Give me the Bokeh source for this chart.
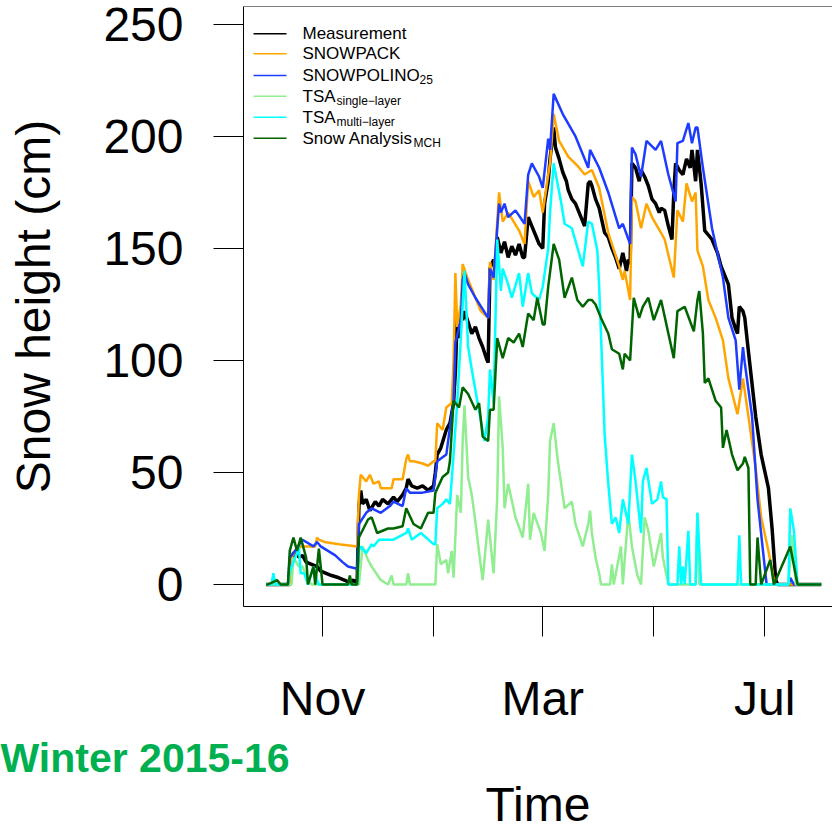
from bokeh.plotting import figure
from bokeh.models import Range1d, FixedTicker, Label, Span, Title, LinearAxis
from bokeh.embed import file_html
from bokeh.resources import INLINE

# Days counted from the start of the season (1 Oct 2015 = day 0)
season_start = "2015-10-01"

tick_days = [31, 92, 152, 213, 274]          # 1 Nov, 1 Jan, 1 Mar, 1 May, 1 Jul
tick_labels = ["Nov", "", "Mar", "", "Jul"]
y_ticks = [0, 50, 100, 150, 200, 250]

meas_day = [0,13,14,15,17,18,20,22,25,28,30,33,36,40,43,46,48,50,51,52,53,55,57,60,62,64,67,70,72,75,
            77,78,80,83,86,89,92,93,94,96,99,101,103,104,105,106,107,108,109,111,113,115,117,119,121,122,123,125,126,127,
            129,131,133,135,137,139,141,142,144,146,148,150,152,153,155,156,158,159,161,163,165,166,168,170,172,174,175,177,178,179,
            181,183,186,188,190,192,194,196,198,199,200,201,203,205,206,208,210,212,214,216,217,219,221,223,224,225,227,229,231,233,
            234,236,237,239,241,243,245,248,250,252,254,256,258,259,260,262,263,265,269,272,276,278,280,281,305]
meas_cm = [0,0,10,14,15,12,13,10,9,8,6,5,4,3,2,1,2,0,35,42,36,38,33,37,35,38,36,39,37,40,
           43,47,44,43,44,42,44,50,58,61,69,72,81,95,119,110,122,118,122,117,112,115,110,106,101,99,141,145,141,155,
           148,153,146,151,147,152,146,146,164,160,156,152,150,170,180,190,204,195,190,184,180,176,172,170,166,162,160,179,180,178,
           172,168,157,155,150,146,141,148,140,145,143,188,186,180,185,182,178,172,170,166,168,167,160,154,175,188,185,183,190,186,
           194,180,194,179,158,156,154,148,142,138,134,119,114,112,124,122,119,104,75,58,43,25,2,0,0]

pack_day = [0,13,14,16,19,22,27,28,29,32,40,50,51,52,55,57,59,62,63,69,70,75,77,78,79,81,86,89,92,93,
            94,97,99,102,103,104,105,107,108,111,115,118,122,123,125,128,130,133,139,142,144,147,150,152,155,156,158,161,166,171,
            175,179,183,188,194,196,197,200,201,203,206,209,212,217,219,224,226,229,231,234,236,237,240,243,247,251,254,259,262,265,
            269,272,276,279,280,305]
pack_cm = [0,0,12,15,17,17,17,21,20,19,18,17,40,49,46,49,45,46,43,43,47,47,56,58,55,55,54,53,55,55,
           72,69,79,81,100,139,115,125,143,136,128,122,119,144,136,175,162,166,158,152,180,173,176,166,183,188,210,198,191,187,
           183,185,177,157,142,136,140,127,173,171,159,170,164,157,154,137,167,162,179,171,175,149,142,127,119,109,92,76,92,75,
           52,30,15,2,0,0]

polino_day = [0,12,13,15,20,26,28,30,38,42,45,50,51,55,58,63,68,70,75,77,79,86,92,94,99,101,103,104,107,108,
              109,111,115,122,123,125,128,129,131,133,137,142,144,146,150,152,155,156,158,163,170,177,178,183,188,194,196,200,201,203,
              206,209,214,217,221,225,226,229,232,234,236,237,240,245,251,254,258,260,262,263,267,270,273,275,287,288,290,305]
polino_cm = [0,0,12,14,20,17,19,17,13,10,8,7,27,32,34,32,35,37,35,43,41,41,42,55,58,70,82,108,118,136,
             139,134,128,119,141,137,170,166,170,164,167,161,183,188,182,177,199,194,219,210,200,186,194,186,175,159,161,152,195,192,
             182,198,194,198,183,171,197,198,206,197,204,204,186,159,137,119,109,87,106,99,75,38,15,0,0,3,0,0]

tsa1_day = [0,14,15,18,20,23,25,51,53,56,58,63,67,69,70,77,78,79,93,94,96,99,100,102,103,105,107,108,109,111,
            113,115,118,119,122,125,127,128,130,131,133,137,141,144,145,147,151,153,155,156,158,160,164,168,170,174,177,178,179,181,
            183,184,189,190,191,195,196,199,201,204,206,208,210,213,217,218,221,236,237,238,287,289,291,305]
tsa1_cm = [0,0,12,8,8,2,0,0,17,11,8,2,0,4,0,0,5,0,0,18,9,11,5,15,3,40,32,64,80,48,
           40,28,8,2,29,5,39,84,61,34,45,30,21,45,20,32,23,15,40,64,72,57,34,37,27,17,27,33,23,12,
           5,0,0,9,0,17,0,32,17,4,0,30,24,8,23,12,0,0,32,0,0,22,0,0]

tsa2_day = [0,3,4,5,12,13,15,17,18,19,21,23,26,28,29,50,51,52,55,58,59,62,70,77,78,80,85,92,93,94,
            97,99,101,103,105,108,109,111,113,116,120,122,123,125,127,129,130,133,135,139,141,144,146,150,152,155,156,158,162,164,
            168,174,177,179,182,183,185,186,188,190,192,194,196,199,201,203,206,207,209,212,215,217,218,220,221,226,227,228,229,230,
            232,233,236,237,239,259,260,261,287,288,290,292,305]
tsa2_cm = [0,0,5,0,0,6,10,14,17,5,5,0,8,2,0,0,15,17,14,18,17,20,20,23,25,20,23,18,18,34,
           36,38,36,58,81,125,140,106,96,82,64,75,96,81,154,131,141,134,128,139,124,139,130,127,133,150,166,188,171,161,
           159,142,162,161,149,133,90,67,45,27,30,23,38,27,58,46,23,46,52,36,38,46,39,38,0,0,17,0,8,0,
           24,0,0,32,0,0,22,0,0,34,24,0,0]

mch_day = [0,1,6,8,12,13,15,17,19,22,23,26,27,29,31,45,46,47,50,51,56,58,61,67,70,75,77,81,85,89,
           92,93,97,100,101,103,106,108,111,115,117,119,122,123,125,127,130,133,136,139,141,144,147,149,152,153,155,158,161,164,
           168,171,174,177,179,181,184,188,190,194,196,197,200,202,205,207,210,213,217,224,226,230,235,237,238,240,241,243,247,250,
           251,253,256,259,262,263,265,266,269,270,272,277,279,288,292,305]
mch_cm = [0,0,2,0,0,15,21,15,21,12,0,8,0,16,0,0,4,0,0,21,29,30,23,25,25,26,34,27,25,32,
          32,41,48,50,55,82,79,88,85,78,81,66,64,78,78,110,101,110,108,112,106,121,118,128,116,116,133,152,145,128,
          137,127,124,127,127,125,119,112,105,103,96,103,100,128,119,124,128,118,127,101,122,124,113,127,131,112,90,92,82,79,
          61,69,58,51,54,57,52,0,0,21,0,11,0,17,0,0]

series = [
    ("Measurement", None, meas_day, meas_cm, "#000000", 3.5),
    ("SNOWPACK", None, pack_day, pack_cm, "#FFA500", 2.5),
    ("SNOWPOLINO", "25", polino_day, polino_cm, "#1E3CFF", 2.5),
    ("TSA", "single\u2212layer", tsa1_day, tsa1_cm, "#90EE90", 2.5),
    ("TSA", "multi\u2212layer", tsa2_day, tsa2_cm, "#00FFFF", 2.5),
    ("Snow Analysis", "MCH", mch_day, mch_cm, "#006400", 2.5),
]

FONT = "Liberation Sans"
X0, X1 = -12.42, 311.2
Y0, Y1 = -9.82, 258.0

p = figure(width=832, height=839, output_backend="svg", toolbar_location=None,
           x_range=Range1d(X0, X1), y_range=Range1d(Y0, Y1),
           min_border_left=243, min_border_right=0, min_border_top=6, min_border_bottom=233)
p.grid.visible = False
p.outline_line_color = None
p.background_fill_color = "white"
p.border_fill_color = "white"

for name, sub, d, v, col, lw in series:
    p.line(d, v, line_color=col, line_width=lw)

p.add_layout(Span(location=Y1, dimension="width", line_color="black", line_width=1))

for ax in (p.xaxis[0], p.yaxis[0]):
    ax.major_tick_out = 30
    ax.major_tick_in = 0
    ax.minor_tick_line_color = None
    ax.axis_line_color = "black"
    ax.axis_line_width = 1
    ax.major_tick_line_color = "black"
    ax.major_label_text_font = FONT
    ax.major_label_text_font_size = "48px"
    ax.major_label_text_color = "black"
    ax.axis_label_text_font = FONT
    ax.axis_label_text_font_size = "48px"
    ax.axis_label_text_font_style = "normal"
    ax.axis_label_text_color = "black"

p.xaxis.ticker = FixedTicker(ticks=tick_days)
p.xaxis.major_label_overrides = {dd: lab for dd, lab in zip(tick_days, tick_labels)}
p.xaxis.major_label_standoff = 35

p.yaxis.ticker = FixedTicker(ticks=y_ticks)
p.yaxis.major_label_standoff = 30
p.yaxis.axis_label = "Snow height (cm)"
p.yaxis.axis_label_standoff = 40

# season tag below the tick labels, then the x-axis title on a bare axis
p.add_layout(Title(text="Winter 2015-16", align="left", offset=-243,
                   text_font=FONT, text_font_size="41px", text_font_style="bold",
                   text_color="#00B050"), "below")
time_axis = LinearAxis(ticker=FixedTicker(ticks=[]), axis_label="Time",
                       axis_line_color=None, major_tick_line_color=None, minor_tick_line_color=None,
                       major_tick_out=0, major_tick_in=0, minor_tick_out=0, minor_tick_in=0,
                       major_label_standoff=0, major_label_text_font_size="0px",
                       axis_label_standoff=-8, axis_label_text_font=FONT,
                       axis_label_text_font_size="48px", axis_label_text_font_style="normal",
                       axis_label_text_color="black")
p.add_layout(time_axis, "below")

# legend drawn by hand (subscripts)
row_v = [245.8, 236.9, 227.2, 217.9, 208.6, 199.2]
sub_dx = {"SNOWPOLINO": 117, "TSA": 34, "Snow Analysis": 111}
for (name, sub, d, v, col, lw), rv in zip(series, row_v):
    p.segment(x0=[-6.9], y0=[rv], x1=[11.2], y1=[rv], line_color=col, line_width=1.5)
    p.add_layout(Label(x=20.0, y=rv, text=name, text_font=FONT, text_font_size="17px",
                       text_baseline="middle", text_color="black"))
    if sub:
        p.add_layout(Label(x=20.0, y=rv - 2.0, x_offset=sub_dx[name], text=sub, text_font=FONT,
                           text_font_size="12px", text_baseline="middle", text_color="black"))

open("out.html", "w").write(file_html(p, INLINE))
